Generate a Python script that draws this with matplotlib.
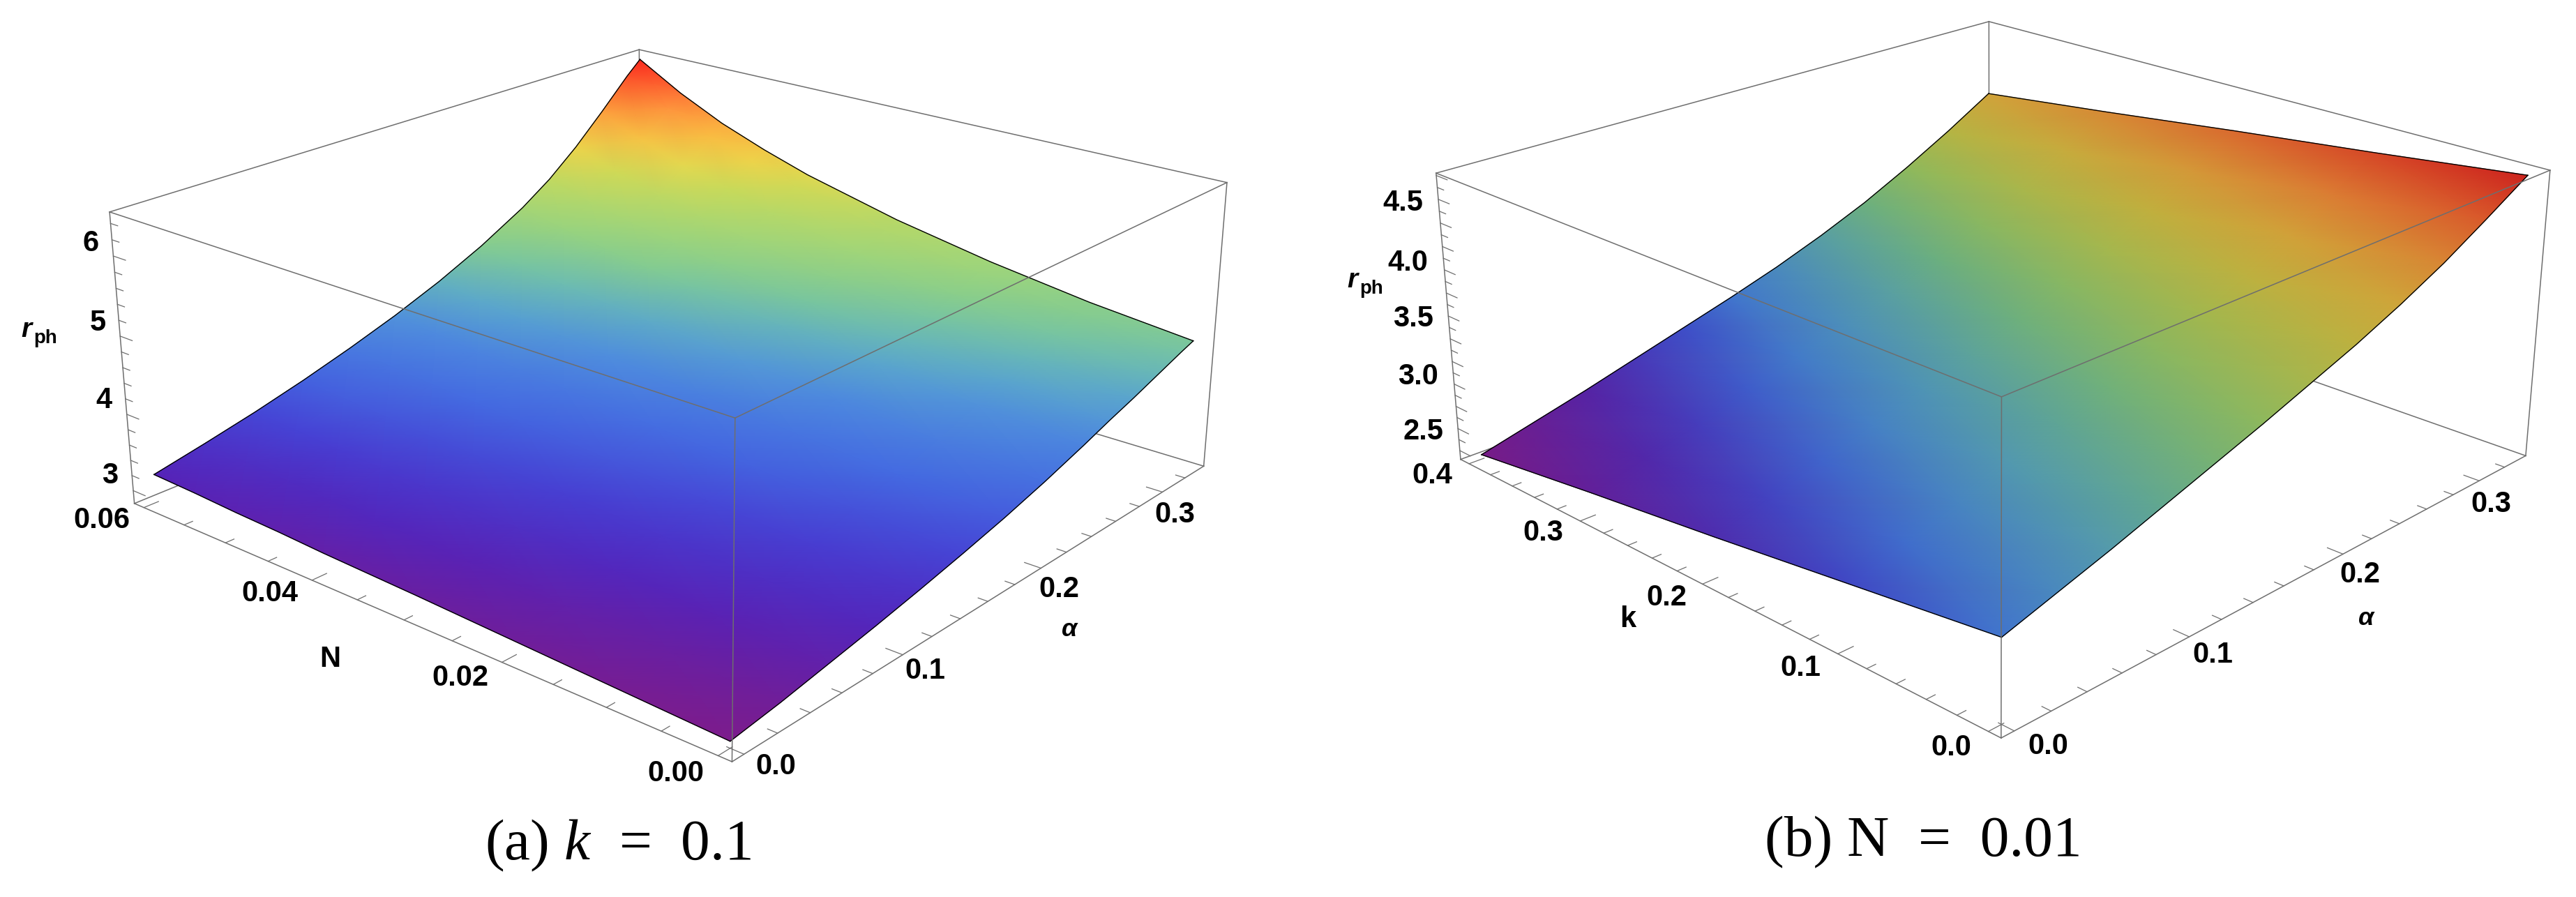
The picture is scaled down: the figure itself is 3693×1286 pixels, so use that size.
import numpy as np
import matplotlib
matplotlib.use('Agg')
import matplotlib.pyplot as plt
from matplotlib.collections import QuadMesh
from matplotlib.colors import LinearSegmentedColormap, Normalize
from mpl_toolkits.mplot3d import proj3d

W, H = 3693, 1286

alpha_a = [0.00, 0.03, 0.06, 0.09, 0.12, 0.15, 0.18, 0.21, 0.24, 0.26, 0.28, 0.30, 0.32, 0.33]
n_a = [0.00, 0.01, 0.02, 0.03, 0.04, 0.045, 0.05, 0.055, 0.06]
r_a = [[2.91, 2.96, 3.01, 3.06, 3.10, 3.13, 3.15, 3.18, 3.20],
       [3.00, 3.06, 3.11, 3.17, 3.23, 3.25, 3.28, 3.31, 3.34],
       [3.11, 3.17, 3.23, 3.30, 3.36, 3.39, 3.42, 3.46, 3.49],
       [3.22, 3.29, 3.36, 3.43, 3.51, 3.54, 3.58, 3.62, 3.66],
       [3.34, 3.42, 3.50, 3.58, 3.67, 3.71, 3.75, 3.80, 3.85],
       [3.47, 3.56, 3.65, 3.74, 3.84, 3.89, 3.94, 4.00, 4.06],
       [3.61, 3.71, 3.81, 3.91, 4.03, 4.09, 4.15, 4.22, 4.30],
       [3.77, 3.87, 3.99, 4.11, 4.24, 4.31, 4.39, 4.48, 4.58],
       [3.95, 4.06, 4.19, 4.32, 4.48, 4.57, 4.67, 4.78, 4.91],
       [4.08, 4.20, 4.33, 4.49, 4.67, 4.77, 4.89, 5.02, 5.18],
       [4.20, 4.33, 4.48, 4.66, 4.87, 5.00, 5.14, 5.31, 5.51],
       [4.33, 4.47, 4.64, 4.84, 5.09, 5.25, 5.42, 5.64, 5.89],
       [4.46, 4.60, 4.79, 5.02, 5.31, 5.50, 5.71, 5.97, 6.29],
       [4.52, 4.66, 4.85, 5.09, 5.40, 5.60, 5.83, 6.12, 6.47]]

alpha_b = [0.00, 0.03, 0.06, 0.09, 0.12, 0.15, 0.18, 0.21, 0.24, 0.27, 0.30, 0.33]
k_b = [0.0, 0.1, 0.2, 0.3, 0.4]
r_b = [[2.89, 2.73, 2.57, 2.42, 2.26],
       [3.02, 2.86, 2.70, 2.54, 2.38],
       [3.15, 2.99, 2.83, 2.66, 2.50],
       [3.29, 3.13, 2.96, 2.80, 2.63],
       [3.43, 3.26, 3.10, 2.93, 2.76],
       [3.57, 3.40, 3.23, 3.06, 2.89],
       [3.72, 3.55, 3.38, 3.20, 3.03],
       [3.87, 3.70, 3.53, 3.36, 3.19],
       [4.04, 3.87, 3.71, 3.54, 3.37],
       [4.23, 4.07, 3.91, 3.74, 3.58],
       [4.45, 4.29, 4.13, 3.97, 3.81],
       [4.68, 4.52, 4.37, 4.21, 4.06]]

colors_a = [(125, 28, 140), (85, 35, 185), (70, 65, 212), (68, 105, 225), (78, 140, 222), (90, 165, 205),
            (110, 190, 175), (128, 202, 148), (155, 212, 125), (200, 218, 90), (235, 215, 75), (250, 185, 65),
            (255, 140, 60), (250, 40, 30)]
stops_a = [0, .08, .15, .22, .31, .36, .42, .46, .53, .66, .72, .795, .875, 1]
colors_b = [(120, 28, 135), (85, 35, 165), (62, 75, 200), (65, 118, 205), (80, 150, 180), (105, 175, 130),
            (145, 185, 90), (185, 180, 65), (208, 165, 58), (220, 120, 50), (215, 75, 40), (205, 35, 30)]
stops_b = [0, .10, .20, .26, .35, .45, .55, .65, .74, .85, .93, 1]


def make_cmap(colors, stops):
    return LinearSegmentedColormap.from_list('rb', [(s, tuple(v / 255 for v in c)) for s, c in zip(stops, colors)])


def ticks(start, stop, step, every):
    n = int(round((stop - start) / step))
    return [(start + i * step, (i % every) == 0) for i in range(n + 1)]


fig = plt.figure(figsize=(W / 100, H / 100), dpi=100)


def panel(cam, rect, xs, ys, zs, xlim, ylim, zlim, cmap, xticks, yticks, zticks):
    ax = fig.add_axes(rect, projection='3d', computed_zorder=False)
    ax.set_facecolor('none')
    ax.set_axis_off()
    ax.view_init(elev=cam[0], azim=cam[1])
    ax.set_proj_type('persp', focal_length=np.exp(cam[2]))
    ax.set_box_aspect((np.exp(cam[3]), np.exp(cam[4]), 1))
    ax.set_xlim(*xlim)
    ax.set_ylim(*ylim)
    ax.set_zlim(*zlim)

    # gouraud quad mesh on the projected grid, so the colours blend smoothly
    Y, X = np.meshgrid(ys, xs)
    Z = np.array(zs)
    u, v, _ = proj3d.proj_transform(X.ravel(), Y.ravel(), Z.ravel(), ax.get_proj())
    coords = np.stack([np.reshape(u, X.shape), np.reshape(v, X.shape)], axis=-1)
    mesh = QuadMesh(coords, shading='gouraud', cmap=cmap, norm=Normalize(Z.min(), Z.max()),
                    transform=ax.transData, zorder=2)
    mesh.set_array(Z)
    mesh.do_3d_projection = lambda: 0
    ax.add_collection(mesh, autolim=False)
    mesh.set_clip_on(False)

    ax.plot(xs, [ys[0]] * len(xs), Z[:, 0], color='black', lw=1.0, zorder=4, clip_on=False)
    ax.plot(xs, [ys[-1]] * len(xs), Z[:, -1], color='black', lw=1.0, zorder=4, clip_on=False)
    ax.plot([xs[0]] * len(ys), ys, Z[0, :], color='black', lw=1.0, zorder=4, clip_on=False)
    ax.plot([xs[-1]] * len(ys), ys, Z[-1, :], color='black', lw=1.0, zorder=4, clip_on=False)

    x0, x1 = xlim
    y0, y1 = ylim
    z0, z1 = zlim
    grey = '#6e6e6e'
    back = [((x1, x1), (y1, y1), (z0, z1)), ((x0, x1), (y1, y1), (z0, z0)), ((x1, x1), (y0, y1), (z0, z0)),
            ((x0, x1), (y1, y1), (z1, z1)), ((x1, x1), (y0, y1), (z1, z1)), ((x0, x0), (y1, y1), (z0, z1)),
            ((x1, x1), (y0, y0), (z0, z1)), ((x0, x1), (y0, y0), (z0, z0)), ((x0, x0), (y0, y1), (z0, z0))]
    front = [((x0, x0), (y0, y1), (z1, z1)), ((x0, x1), (y0, y0), (z1, z1)), ((x0, x0), (y0, y0), (z0, z1))]
    for a, b, c in back:
        ax.plot(a, b, c, color=grey, lw=1.1, zorder=1, clip_on=False)
    for a, b, c in front:
        ax.plot(a, b, c, color=grey, lw=1.1, zorder=5, clip_on=False)

    # ticks run along the bottom edges and the left vertical edge
    dx, dy = x1 - x0, y1 - y0
    for t, major in xticks:
        ln = (0.024 if major else 0.014) * dy
        ax.plot([t, t], [y0, y0 + ln], [z0, z0], color=grey, lw=0.9, zorder=1, clip_on=False)
    for t, major in yticks:
        ln = (0.024 if major else 0.014) * dx
        ax.plot([x0, x0 + ln], [t, t], [z0, z0], color=grey, lw=0.9, zorder=1, clip_on=False)
    for t, major in zticks:
        ln = (0.024 if major else 0.014) * dy
        ax.plot([x0, x0], [y1, y1 - ln], [t, t], color=grey, lw=0.9, zorder=1, clip_on=False)


plt.rcParams['mathtext.fontset'] = 'custom'
plt.rcParams['mathtext.rm'] = 'Liberation Serif'
plt.rcParams['mathtext.it'] = 'Liberation Serif:italic'

panel([21.6605, -139.7341, -0.8334, 0.9195, 0.9187], [0.04259, -0.01642, 0.42927, 1.23274],
      alpha_a, n_a, r_a, (-0.007, 0.337), (-0.0012, 0.0612), (2.83, 6.54), make_cmap(colors_a, stops_a),
      ticks(0, 0.32, 0.02, 5), ticks(0, 0.06, 0.005, 4), ticks(3, 6.4, 0.2, 5))
panel([22.0777, -135.5401, -0.833, 0.9138, 0.9167], [0.55502, 0.01669, 0.42654, 1.22489],
      alpha_b, k_b, r_b, (-0.007, 0.337), (-0.008, 0.408), (2.22, 4.72), make_cmap(colors_b, stops_b),
      ticks(0, 0.32, 0.02, 5), ticks(0, 0.4, 0.02, 5), ticks(2.3, 4.7, 0.1, 2))


def label(px, py, s, size=30, **kw):
    fig.text(px / W, 1 - py / H, s, ha='center', va='center', family='Liberation Sans', fontsize=size,
             fontweight='bold', color='black', **kw)


labels_a = [(130, 349, '6'), (140, 463, '5'), (149, 574, '4'), (158, 682, '3'),
            (146, 746, '0.06'), (387, 851, '0.04'), (660, 972, '0.02'), (969, 1109, '0.00'),
            (1112, 1099, '0.0'), (1326, 962, '0.1'), (1518, 845, '0.2'), (1684, 738, '0.3'), (473, 945, 'N')]
labels_b = [(2011, 291, '4.5'), (2018, 377, '4.0'), (2026, 457, '3.5'), (2033, 540, '3.0'), (2040, 619, '2.5'),
            (2053, 682, '0.4'), (2212, 764, '0.3'), (2389, 857, '0.2'), (2581, 958, '0.1'), (2797, 1072, '0.0'),
            (2936, 1070, '0.0'), (3172, 939, '0.1'), (3383, 824, '0.2'), (3571, 723, '0.3'), (2334, 888, 'k')]
for px, py, s in labels_a + labels_b:
    label(px, py, s)
for px, py in [(1533, 902), (3392, 886)]:
    label(px, py, 'α', size=26, style='italic')
for px, py in [(52, 477), (1953, 406)]:
    label(px - 14, py - 4, 'r', size=28, style='italic')
    label(px + 13, py + 8, 'ph', size=20)

fig.text(886 / W, 1 - 1212 / H, '(a) $k$  =  0.1', ha='center', va='center', family='Liberation Serif', fontsize=60)
fig.text(2757 / W, 1 - 1208 / H, '(b) N  =  0.01', ha='center', va='center', family='Liberation Serif', fontsize=60)

fig.savefig('out.png', dpi=100)
